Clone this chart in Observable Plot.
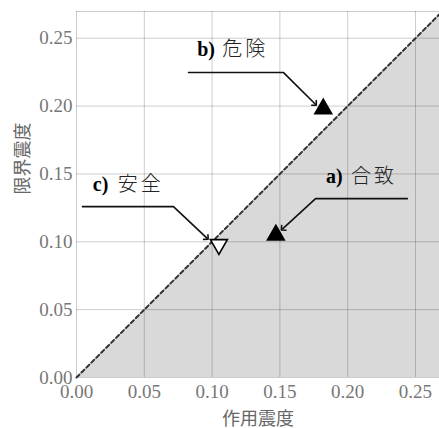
<!DOCTYPE html>
<html>
<head>
<meta charset="utf-8">
<script src="https://cdn.jsdelivr.net/npm/d3@7"></script>
<script src="https://cdn.jsdelivr.net/npm/@observablehq/plot@0.6"></script>
<style>
  body { margin: 0; background: #fff; }
  #chart svg text { font-family: 'Liberation Serif', 'Times New Roman', serif !important; }
  #chart svg text.cjk { font-family: 'Noto Sans CJK JP', sans-serif !important; }
  #chart svg text.cjkname { letter-spacing: 3px; }
</style>
</head>
<body>
<div id="chart"></div>
<script>
// ---- data ----
const ticks = [0, 0.05, 0.10, 0.15, 0.20, 0.25];
const xMax = 0.2677;
const yMax = 0.2697;
const diagX = [0, 0.268];            // limit line: limit seismic coefficient = acting coefficient
const caseTags = ["a)", "b)", "c)"];
const caseNames = ["合致", "危険", "安全"];
const actCoef = [0.147, 0.182, 0.105];   // 作用震度
const limCoef = [0.105, 0.198, 0.098];   // 限界震度
const caseFilled = [true, true, false];
const labelX = [0.184, 0.089, 0.012];
const labelY = [0.148, 0.2415, 0.142];
const arrowA = [[0.244, 0.1318], [0.1763, 0.1318], [0.152, 0.1095]];
const arrowB = [[0.0826, 0.2247], [0.1527, 0.2247], [0.1760, 0.2015]];
const arrowC = [[0.0044, 0.1259], [0.0715, 0.1259], [0.0962, 0.1027]];
const xLabel = "作用震度";
const yLabel = "限界震度";

// ---- build tables ----
const diag = diagX.map(v => ({x: v, y: v}));
const cases = caseTags.map((t, i) => ({
  tag: t, name: caseNames[i], x: actCoef[i], y: limCoef[i],
  filled: caseFilled[i], lx: labelX[i], ly: labelY[i]
}));
const arrows = [arrowA, arrowB, arrowC].flatMap((a, k) =>
  a.map(([x, y]) => ({k, x, y})));

const fmt = d3.format(".2f");

const chart = Plot.plot({
  width: 439,
  height: 428,
  marginLeft: 76,
  marginRight: 0,
  marginTop: 11,
  marginBottom: 51,
  style: {background: "#fff", overflow: "visible"},
  x: {domain: [0, xMax], ticks: ticks, tickFormat: fmt},
  y: {domain: [0, yMax], ticks: ticks, tickFormat: fmt},
  marks: [
    Plot.areaY(diag, {x: "x", y1: 0, y2: "y", fill: "#d9d9d9"}),
    Plot.gridX(ticks, {stroke: "#000", strokeOpacity: 0.2, strokeWidth: 1}),
    Plot.gridY(ticks, {stroke: "#000", strokeOpacity: 0.2, strokeWidth: 1}),
    Plot.ruleY([yMax], {stroke: "#000", strokeOpacity: 0.2}),
    Plot.line(diag, {x: "x", y: "y", stroke: "#333", strokeWidth: 2, strokeDasharray: "4,3"}),
    Plot.axisX({ticks: ticks, tickFormat: fmt, tickSize: 0, tickPadding: 7,
      fontSize: 19, color: "#777", label: null}),
    Plot.axisY({ticks: ticks, tickFormat: fmt, tickSize: 0, tickPadding: 4,
      fontSize: 19, color: "#777", label: null}),
    Plot.line(arrows, {x: "x", y: "y", z: "k", stroke: "#111", strokeWidth: 1.6, markerEnd: "arrow"}),
    Plot.dot(cases.filter(d => d.filled), {x: "x", y: "y", symbol: "triangle", r: 6.3, fill: "#000", stroke: "#000"}),
    Plot.dot(cases.filter(d => !d.filled), {x: "x", y: "y", symbol: "triangle", r: 6.3, rotate: 180, fill: "#fff", stroke: "#000", strokeWidth: 1.6}),
    Plot.text(cases, {x: "lx", y: "ly", text: "tag", textAnchor: "start", fontWeight: "bold", fontSize: 20, fill: "#000"}),
    Plot.text(cases, {x: "lx", y: "ly", text: "name", textAnchor: "start", dx: 25, fontWeight: 300, fontSize: 20, fill: "#222"}),
    Plot.text([xLabel], {frameAnchor: "bottom", dy: 47, fontSize: 18, fill: "#666"}),
    Plot.text([yLabel], {frameAnchor: "left", dx: -53, rotate: -90, fontSize: 18, fill: "#666"})
  ]
});
document.getElementById("chart").appendChild(chart);

// mark the Japanese texts so the stylesheet gives them the CJK font
const hasCJK = /[\u3000-\u9fff]/;
const nameTexts = new Set(caseNames);
chart.querySelectorAll("text").forEach(t => {
  const s = t.textContent.trim();
  if (hasCJK.test(s)) {
    t.classList.add("cjk");
    if (nameTexts.has(s)) t.classList.add("cjkname");
  }
});
</script>
</body>
</html>
